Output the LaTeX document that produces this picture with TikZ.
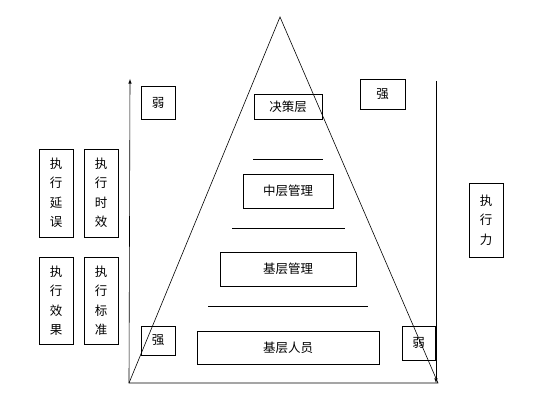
\documentclass[tikz,border=0pt]{standalone}
\usepackage{fontspec}
\setmainfont{Noto Sans CJK SC}
\tikzset{
	box/.style={draw, line width=0.6pt, inner sep=0pt, font=\fontsize{12.5}{19.5}\selectfont, align=center},
	rule/.style={line width=0.6pt}
}
\begin{document}
\begin{tikzpicture}[x=1pt, y=-1pt]
		\useasboundingbox (0,0) rectangle (536,406);

		\coordinate (top) at (280, 17);
		\coordinate (bl) at (129, 383);
		\coordinate (br) at (438, 383);
		\coordinate (up) at (130, 79);
		\coordinate (rt) at (436, 81);
		\coordinate (rb) at (436, 383);

		\node[box, minimum width=34, minimum height=33] (weak1) at (158, 102.5) {弱};
		\node[box, minimum width=68, minimum height=25] (top1) at (288, 106.5) {决策层};
		\node[box, minimum width=45, minimum height=30] (strong1) at (382.5, 94) {强};
		\node[box, minimum width=90, minimum height=34] (mid) at (288, 191) {中层管理};
		\node[box, minimum width=136, minimum height=34] (base) at (288, 269) {基层管理};
		\node[box, minimum width=182, minimum height=33] (staff) at (288, 347.5) {基层人员};
		\node[box, minimum width=34, minimum height=29] (strong2) at (158, 340.5) {强};
		\node[box, minimum width=33, minimum height=34] (weak2) at (418.5, 343) {弱};

		\node[box, minimum width=34, minimum height=88] (delay) at (56, 193) {执\\行\\延\\误};
		\node[box, minimum width=34, minimum height=88] (time) at (101, 193) {执\\行\\时\\效};
		\node[box, minimum width=34, minimum height=87] (effect) at (56, 300.5) {执\\行\\效\\果};
		\node[box, minimum width=34, minimum height=87] (norm) at (101, 300.5) {执\\行\\标\\准};
		\node[box, minimum width=34, minimum height=74] (power) at (486, 220) {执\\行\\力};

		\draw[rule] (top) -- (bl) -- (br) -- cycle;

		\draw[rule, -latex] (bl) -- (up);
		\draw[rule, -latex] (rt) -- (rb);

		\draw[rule] (253, 159) -- (323, 159);
		\draw[rule] (232, 228) -- (345, 228);
		\draw[rule] (208, 306) -- (368, 306);

	\end{tikzpicture}
\end{document}
